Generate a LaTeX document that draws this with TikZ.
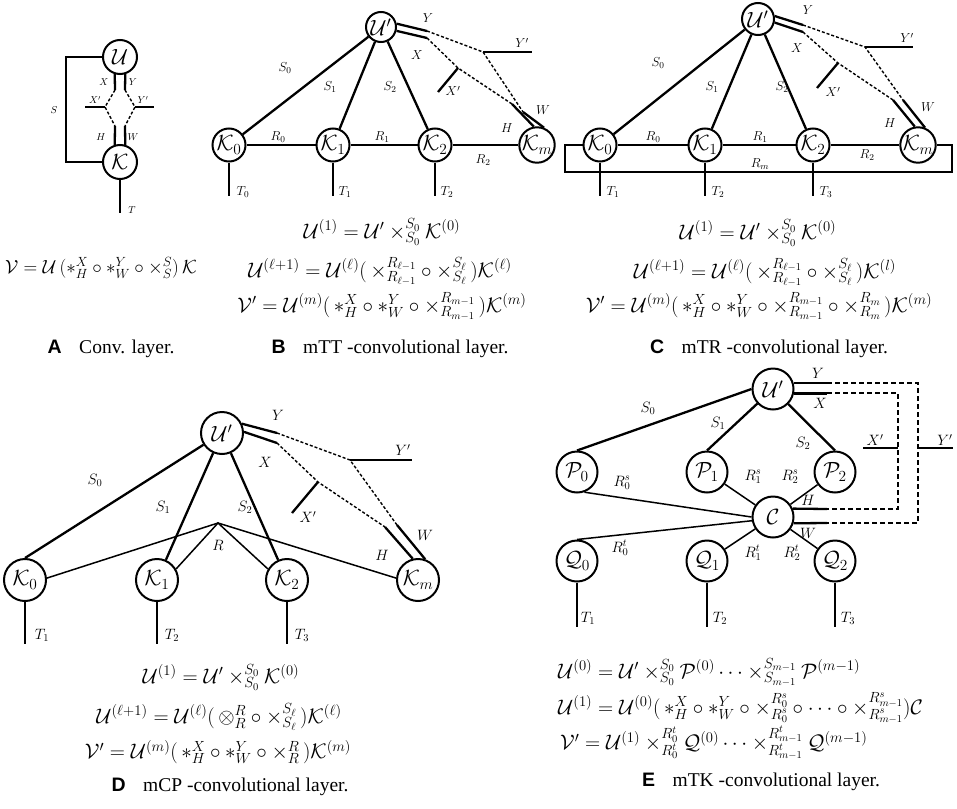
\RequirePackage{fix-cm}
\documentclass[tikz,border=0pt]{standalone}
\usepackage{fontspec}
\setmainfont{Liberation Serif}
\newfontfamily\capsf{Liberation Sans}
\usetikzlibrary{calc}
\tikzset{
  nd/.style={circle,draw,line width=2pt,inner sep=0pt,minimum size=#1,font=\fontsize{22}{24}\selectfont},
  nd/.default=34,
  ed/.style={line width=2.3pt},
  thinln/.style={line width=1.5pt},
  dsh/.style={line width=1.4pt,dash pattern=on 3pt off 2pt},
  dshE/.style={line width=2pt,dash pattern=on 5pt off 3pt},
  lbA/.style={font=\fontsize{10}{12}\selectfont,inner sep=0pt},
  lbB/.style={font=\fontsize{13}{15}\selectfont,inner sep=0pt},
  lbD/.style={font=\fontsize{15}{17}\selectfont,inner sep=0pt},
  fm/.style={font=\fontsize{21}{24}\selectfont,inner sep=0pt},
  capn/.style={font=\fontsize{19.5}{22}\selectfont,inner sep=0pt},
}
\newcommand{\plab}[1]{{\capsf\bfseries #1}\hspace{0.9em}}
\newcommand{\LP}{\bigl(\,}
\newcommand{\RP}{\,\bigr)}
\newcommand{\tx}[2]{\times^{#1\vphantom{g}}_{\vphantom{A}#2}}
\begin{document}
\begin{tikzpicture}[x=1pt,y=-1pt]
\useasboundingbox (0,0) rectangle (957,808);
% ================= Panel A =================
\node[nd=34] (aU) at (120,57) {$\mathcal{U}$};
\node[nd=34] (aK) at (120,162) {$\mathcal{K}$};
\draw[ed] (aU.west) -- ++(-36,0) |- (aK.west);
\coordinate (aXa) at (115,90); \coordinate (aXb) at (105,107); \coordinate (aXc) at (115,126);
\coordinate (aYa) at (125,90); \coordinate (aYb) at (135,107); \coordinate (aYc) at (125,126);
\coordinate (aXs) at (85,107); \coordinate (aYs) at (154,107);
\draw[ed] (aU.253) -- (aXa); \draw[dsh] (aXa) -- (aXb) -- (aXc); \draw[ed] (aXc) -- (aK.107);
\draw[ed] (aU.287) -- (aYa); \draw[dsh] (aYa) -- (aYb) -- (aYc); \draw[ed] (aYc) -- (aK.73);
\draw[ed] (aXs) -- (aXb); \draw[ed] (aYb) -- (aYs);
\draw[ed] (aK.south) -- ++(0,33);
\node[lbA] (aLS) at (54,110) {$S$};
\node[lbA] (aLX) at (104,82) {$X$};
\node[lbA] (aLY) at (133,82) {$Y$};
\node[lbA] (aLXp) at (95,100) {$X'$};
\node[lbA] (aLYp) at (143,100) {$Y'$};
\node[lbA] (aLH) at (101,137) {$H$};
\node[lbA] (aLW) at (133,137) {$W$};
\node[lbA] (aLT) at (132,210) {$T$};
\node[fm,font=\fontsize{19}{22}\selectfont] (aF) at (101,268) {$\mathcal{V}=\mathcal{U}\,\bigl(\ast^{X}_{H}\circ\ast^{Y}_{W}\circ\times^{S}_{S}\bigr)\,\mathcal{K}$};
\node[capn] (aC) at (111,349) {\plab{A}Conv. layer.};
% ================= Panel B =================
\node[nd=30] (bU) at (381,27) {$\mathcal{U}'$};
\node[nd=33] (bK0) at (229,145) {$\mathcal{K}_0$};
\node[nd=33] (bK1) at (333,145) {$\mathcal{K}_1$};
\node[nd=33] (bK2) at (435,145) {$\mathcal{K}_2$};
\node[nd=33] (bKm) at (537,145) {$\mathcal{K}_m$};
\draw[ed] (bU) -- (bK0); \draw[ed] (bU) -- (bK1); \draw[ed] (bU) -- (bK2);
\draw[ed] (bK0) -- (bK1); \draw[ed] (bK1) -- (bK2); \draw[ed] (bK2) -- (bKm);
\draw[ed] (bK0.south) -- ++(0,33); \draw[ed] (bK1.south) -- ++(0,33); \draw[ed] (bK2.south) -- ++(0,33);
\coordinate (bYa) at (427,31); \coordinate (bYb) at (483,52); \coordinate (bYc) at (523,112);
\coordinate (bXa) at (427,38); \coordinate (bXb) at (458,68); \coordinate (bXc) at (512,104);
\coordinate (bXs) at (438,92); \coordinate (bYs) at (532,52);
\draw[ed] (bU.12) -- (bYa); \draw[dsh] (bYa) -- (bYb) -- (bYc); \draw[ed] (bYc) -- (bKm.68);
\draw[ed] (bU.-14) -- (bXa); \draw[dsh] (bXa) -- (bXb) -- (bXc); \draw[ed] (bXc) -- (bKm.100);
\draw[ed] (bXb) -- (bXs); \draw[ed] (bYb) -- (bYs);
\node[lbB] (bLS0) at (285,68) {$S_0$};
\node[lbB] (bLS1) at (330,87) {$S_1$};
\node[lbB] (bLS2) at (390,87) {$S_2$};
\node[lbB] (bLR0) at (278,137) {$R_0$};
\node[lbB] (bLR1) at (382,137) {$R_1$};
\node[lbB] (bLR2) at (483,160) {$R_2$};
\node[lbB] (bLT0) at (243,192) {$T_0$};
\node[lbB] (bLT1) at (345,192) {$T_1$};
\node[lbB] (bLT2) at (447,192) {$T_2$};
\node[lbB] (bLY) at (428,18) {$Y$};
\node[lbB] (bLX) at (417,55) {$X$};
\node[lbB] (bLW) at (543,110) {$W$};
\node[lbB] (bLH) at (507,128) {$H$};
\node[lbB] (bLXp) at (453,91) {$X'$};
\node[lbB] (bLYp) at (522,43) {$Y'$};
\node[fm] (bF1) at (382,232) {$\mathcal{U}^{(1)}=\mathcal{U}'\times^{S_0}_{S_0}\mathcal{K}^{(0)}$};
\node[fm] (bF2) at (380,271) {$\mathcal{U}^{(\ell+1)}=\mathcal{U}^{(\ell)}\LP\times^{R_{\ell-1}}_{R_{\ell-1}}\circ\times^{S_\ell}_{S_\ell}\RP\mathcal{K}^{(\ell)}$};
\node[fm] (bF3) at (382,306) {$\mathcal{V}'=\mathcal{U}^{(m)}\LP\ast^{X}_{H}\circ\ast^{Y}_{W}\circ\times^{R_{m-1}}_{R_{m-1}}\RP\mathcal{K}^{(m)}$};
\node[capn] (bC) at (390,349) {\plab{B}mTT -convolutional layer.};
% ================= Panel C =================
\node[nd=32] (cU) at (758,19) {$\mathcal{U}'$};
\node[nd=33] (cK0) at (600,145) {$\mathcal{K}_0$};
\node[nd=33] (cK1) at (705,145) {$\mathcal{K}_1$};
\node[nd=33] (cK2) at (813,145) {$\mathcal{K}_2$};
\node[nd=33] (cKm) at (918,145) {$\mathcal{K}_m$};
\draw[ed] (cU) -- (cK0); \draw[ed] (cU) -- (cK1); \draw[ed] (cU) -- (cK2);
\draw[ed] (cK0) -- (cK1); \draw[ed] (cK1) -- (cK2); \draw[ed] (cK2) -- (cKm);
\coordinate (cRa) at (565,172); \coordinate (cRb) at (952,172);
\draw[ed] (cK0.west) -| (cRa) -- (cRb) |- (cKm.east);
\draw[ed] (cK0.south) -- ++(0,33); \draw[ed] (cK1.south) -- ++(0,33); \draw[ed] (cK2.south) -- ++(0,33);
\coordinate (cYa) at (803,25); \coordinate (cYb) at (865,47); \coordinate (cYc) at (903,100);
\coordinate (cXa) at (803,32); \coordinate (cXb) at (838,63); \coordinate (cXc) at (893,100);
\coordinate (cXs) at (817,88); \coordinate (cYs) at (913,47);
\draw[ed] (cU.10) -- (cYa); \draw[dsh] (cYa) -- (cYb) -- (cYc); \draw[ed] (cYc) -- (cKm.68);
\draw[ed] (cU.-12) -- (cXa); \draw[dsh] (cXa) -- (cXb) -- (cXc); \draw[ed] (cXc) -- (cKm.100);
\draw[ed] (cXb) -- (cXs); \draw[ed] (cYb) -- (cYs);
\node[lbB] (cLS0) at (658,63) {$S_0$};
\node[lbB] (cLS1) at (712,87) {$S_1$};
\node[lbB] (cLS2) at (782,87) {$S_2$};
\node[lbB] (cLR0) at (653,137) {$R_0$};
\node[lbB] (cLR1) at (760,137) {$R_1$};
\node[lbB] (cLR2) at (867,155) {$R_2$};
\node[lbB] (cLRm) at (760,164) {$R_m$};
\node[lbB] (cLT1) at (613,192) {$T_1$};
\node[lbB] (cLT2) at (718,192) {$T_2$};
\node[lbB] (cLT3) at (826,192) {$T_3$};
\node[lbB] (cLY) at (808,10) {$Y$};
\node[lbB] (cLX) at (797,48) {$X$};
\node[lbB] (cLXp) at (833,92) {$X'$};
\node[lbB] (cLYp) at (907,38) {$Y'$};
\node[lbB] (cLW) at (928,107) {$W$};
\node[lbB] (cLH) at (890,123) {$H$};
\node[fm] (cF1) at (758,233) {$\mathcal{U}^{(1)}=\mathcal{U}'\times^{S_0}_{S_0}\mathcal{K}^{(0)}$};
\node[fm] (cF2) at (765,272) {$\mathcal{U}^{(\ell+1)}=\mathcal{U}^{(\ell)}\LP\times^{R_{\ell-1}}_{R_{\ell-1}}\circ\times^{S_\ell}_{S_\ell}\RP\mathcal{K}^{(l)}$};
\node[fm] (cF3) at (759,306) {$\mathcal{V}'=\mathcal{U}^{(m)}\LP\ast^{X}_{H}\circ\ast^{Y}_{W}\circ\times^{R_{m-1}}_{R_{m-1}}\circ\times^{R_m}_{R_m}\RP\mathcal{K}^{(m)}$};
\node[capn] (cC) at (769,349) {\plab{C}mTR -convolutional layer.};
% ================= Panel D =================
\node[nd=42] (dU) at (222,433) {$\mathcal{U}'$};
\node[nd=42] (dK0) at (25,580) {$\mathcal{K}_0$};
\node[nd=42] (dK1) at (157,580) {$\mathcal{K}_1$};
\node[nd=42] (dK2) at (287,580) {$\mathcal{K}_2$};
\node[nd=42] (dKm) at (418,580) {$\mathcal{K}_m$};
\draw[ed] (dU) -- (dK0.north); \draw[ed] (dU) -- (dK1); \draw[ed] (dU) -- (dK2);
\coordinate (dR) at (218,523);
\draw[thinln] (dK0.5) -- (dR) -- (dKm.175);
\draw[thinln] (dK1.30) -- (dR) -- (dK2.150);
\draw[ed] (dK0.south) -- ++(0,42); \draw[ed] (dK1.south) -- ++(0,42); \draw[ed] (dK2.south) -- ++(0,42);
\coordinate (dYa) at (277,433); \coordinate (dYb) at (350,460); \coordinate (dYc) at (397,525);
\coordinate (dXa) at (277,443); \coordinate (dXb) at (318,482); \coordinate (dXc) at (385,527);
\coordinate (dXs) at (292,513); \coordinate (dYs) at (412,460);
\draw[ed] (dU.25) -- (dYa); \draw[dsh] (dYa) -- (dYb) -- (dYc); \draw[ed] (dYc) -- (dKm.71);
\draw[ed] (dU.3) -- (dXa); \draw[dsh] (dXa) -- (dXb) -- (dXc); \draw[ed] (dXc) -- (dKm.104);
\draw[ed] (dXb) -- (dXs); \draw[ed] (dYb) -- (dYs);
\node[lbD] (dLS0) at (95,480) {$S_0$};
\node[lbD] (dLS1) at (163,507) {$S_1$};
\node[lbD] (dLS2) at (245,507) {$S_2$};
\node[lbD] (dLR) at (218,545) {$R$};
\node[lbD] (dLY) at (278,415) {$Y$};
\node[lbD] (dLX) at (265,462) {$X$};
\node[lbD] (dLXp) at (308,517) {$X'$};
\node[lbD] (dLYp) at (403,450) {$Y'$};
\node[lbD] (dLW) at (425,535) {$W$};
\node[lbD] (dLH) at (382,555) {$H$};
\node[lbD] (dLT1) at (42,635) {$T_1$};
\node[lbD] (dLT2) at (172,635) {$T_2$};
\node[lbD] (dLT3) at (302,635) {$T_3$};
\node[fm] (dF1) at (221,677) {$\mathcal{U}^{(1)}=\mathcal{U}'\times^{S_0}_{S_0}\mathcal{K}^{(0)}$};
\node[fm] (dF2) at (219,717) {$\mathcal{U}^{(\ell+1)}=\mathcal{U}^{(\ell)}\LP\otimes^{R}_{R}\circ\times^{S_\ell}_{S_\ell}\RP\mathcal{K}^{(\ell)}$};
\node[fm] (dF3) at (218,752) {$\mathcal{V}'=\mathcal{U}^{(m)}\LP\ast^{X}_{H}\circ\ast^{Y}_{W}\circ\times^{R}_{R}\RP\mathcal{K}^{(m)}$};
\node[capn] (dC) at (230,787) {\plab{D}mCP -convolutional layer.};
% ================= Panel E =================
\node[nd=41] (eU) at (773,389) {$\mathcal{U}'$};
\node[nd=41] (eP0) at (577,472) {$\mathcal{P}_0$};
\node[nd=41] (eP1) at (707,472) {$\mathcal{P}_1$};
\node[nd=41] (eP2) at (835,472) {$\mathcal{P}_2$};
\node[nd=41] (eC) at (773,517) {$\mathcal{C}$};
\node[nd=41] (eQ0) at (577,561) {$\mathcal{Q}_0$};
\node[nd=41] (eQ1) at (707,561) {$\mathcal{Q}_1$};
\node[nd=41] (eQ2) at (835,561) {$\mathcal{Q}_2$};
\draw[ed] (eU.west) -- (eP0.north); \draw[ed] (eU) -- (eP1.north); \draw[ed] (eU) -- (eP2.north);
\draw[thinln] (eP0.-70) -- (eC.west); \draw[thinln] (eP1) -- (eC); \draw[thinln] (eP2) -- (eC);
\draw[thinln] (eC.190) -- (eQ0.north); \draw[thinln] (eC) -- (eQ1); \draw[thinln] (eC) -- (eQ2);
\draw[ed] (eQ0.south) -- ++(0,44); \draw[ed] (eQ1.south) -- ++(0,44); \draw[ed] (eQ2.south) -- ++(0,44);
\coordinate (eYa) at (827,383); \coordinate (eYb) at (918,383); \coordinate (eYc) at (918,523); \coordinate (eYd) at (827,523);
\coordinate (eXa) at (827,393); \coordinate (eXb) at (898,393); \coordinate (eXc) at (898,509); \coordinate (eXd) at (827,509);
\coordinate (eXs) at (863,448); \coordinate (eXt) at (898,448);
\coordinate (eYs) at (953,448); \coordinate (eYt) at (918,448);
\draw[ed] (eU.17) -- (eU.17 -| eYa); \draw[dshE] (eYa) -- (eYb) -- (eYc) -- (eYd); \draw[ed] (eYd) -- (eC.-17);
\draw[ed] (eU.-12) -- (eU.-12 -| eXa); \draw[dshE] (eXa) -- (eXb) -- (eXc) -- (eXd); \draw[ed] (eXd) -- (eC.23);
\draw[ed] (eXs) -- (eXt); \draw[ed] (eYt) -- (eYs);
\node[lbD] (eLY) at (818,373) {$Y$};
\node[lbD] (eLX) at (820,403) {$X$};
\node[lbD] (eLXp) at (875,440) {$X'$};
\node[lbD] (eLYp) at (945,440) {$Y'$};
\node[lbD] (eLS0) at (648,408) {$S_0$};
\node[lbD] (eLS1) at (718,423) {$S_1$};
\node[lbD] (eLS2) at (803,443) {$S_2$};
\node[lbD] (eLR0s) at (622,483) {$R^s_0$};
\node[lbD] (eLR1s) at (753,477) {$R^s_1$};
\node[lbD] (eLR2s) at (790,477) {$R^s_2$};
\node[lbD] (eLH) at (808,500) {$H$};
\node[lbD] (eLW) at (808,533) {$W$};
\node[lbD] (eLR0t) at (620,548) {$R^t_0$};
\node[lbD] (eLR1t) at (753,553) {$R^t_1$};
\node[lbD] (eLR2t) at (792,553) {$R^t_2$};
\node[lbD] (eLT1) at (588,618) {$T_1$};
\node[lbD] (eLT2) at (720,618) {$T_2$};
\node[lbD] (eLT3) at (848,618) {$T_3$};
\node[fm,anchor=west] (eF1) at (558,672) {$\mathcal{U}^{(0)}=\mathcal{U}'\times^{S_0}_{S_0}\mathcal{P}^{(0)}\cdots\times^{S_{m-1}}_{S_{m-1}}\mathcal{P}^{(m-1)}$};
\node[fm,anchor=west] (eF2) at (558,708) {$\mathcal{U}^{(1)}=\mathcal{U}^{(0)}\LP\ast^{X}_{H}\circ\ast^{Y}_{W}\circ\tx{R^s_0}{R^s_0}\circ\cdots\circ\tx{R^s_{m-1}}{R^s_{m-1}}\bigr)\mathcal{C}$};
\node[fm,anchor=west] (eF3) at (560,743) {$\mathcal{V}'=\mathcal{U}^{(1)}\tx{R^t_0}{R^t_0}\mathcal{Q}^{(0)}\cdots\tx{R^t_{m-1}}{R^t_{m-1}}\mathcal{Q}^{(m-1)}$};
\node[capn] (eCap) at (761,782) {\plab{E}mTK -convolutional layer.};
\end{tikzpicture}
\end{document}
